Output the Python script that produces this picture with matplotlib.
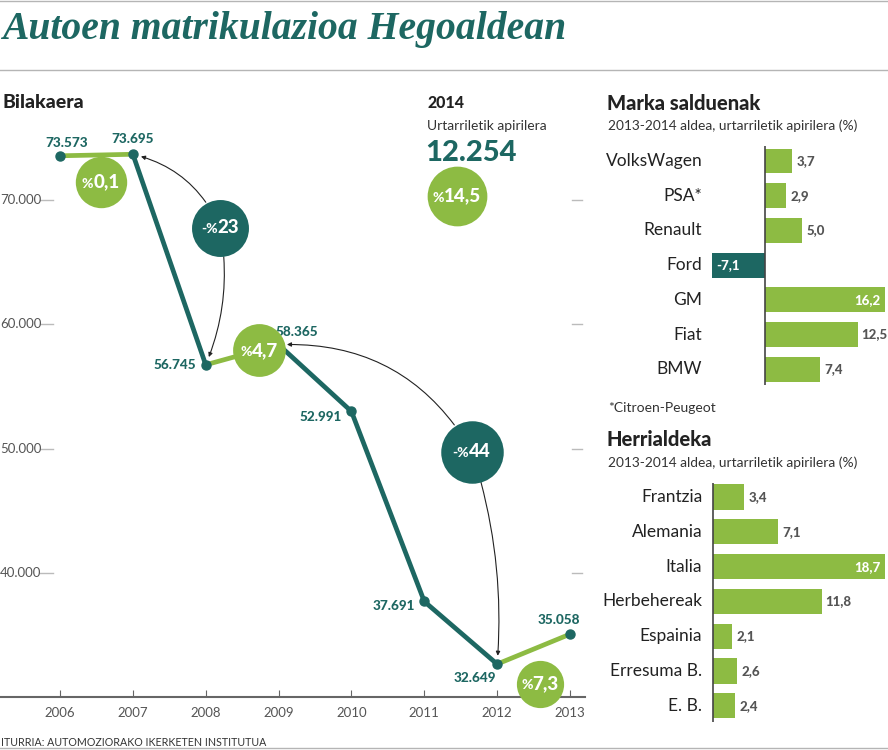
import matplotlib
matplotlib.use("Agg")
import matplotlib.pyplot as plt
from matplotlib.transforms import blended_transform_factory
from matplotlib.offsetbox import TextArea, HPacker, AnnotationBbox

plt.rcParams['font.family'] = ['Lato', 'DejaVu Sans']

# --- data ---
years = [2006, 2007, 2008, 2009, 2010, 2011, 2012, 2013]
registrations = [73573, 73695, 56745, 58365, 52991, 37691, 32649, 35058]
year_labels = ['73.573', '73.695', '56.745', '58.365', '52.991', '37.691', '32.649', '35.058']
y_ticks = [70000, 60000, 50000, 40000]
y_tick_labels = ['70.000', '60.000', '50.000', '40.000']

brands = ['VolksWagen', 'PSA*', 'Renault', 'Ford', 'GM', 'Fiat', 'BMW']
brand_change = [3.7, 2.9, 5.0, -7.1, 16.2, 12.5, 7.4]

countries = ['Frantzia', 'Alemania', 'Italia', 'Herbehereak', 'Espainia', 'Erresuma B.', 'E. B.']
country_change = [3.4, 7.1, 18.7, 11.8, 2.1, 2.6, 2.4]

TEAL = '#1d6762'
GREEN = '#8dbb43'
GRAY = '#555555'
W, H = 888, 750


def rect(l, t, r, b):
    return [l / W, 1 - b / H, (r - l) / W, (b - t) / H]


def ftext(x, y, s, **kw):
    fig.text(x / W, 1 - y / H, s, **kw)


def comma(v):
    return f"{v:.1f}".replace('.', ',')


fig = plt.figure(figsize=(W / 100, H / 100), dpi=100)

# header rules and title
for yy in (1, 70, 748):
    fig.add_artist(plt.Line2D([0, 1], [1 - yy / H] * 2, color='#b5b5b5', lw=1))
ftext(2, 30, 'Autoen matrikulazioa Hegoaldean', family='Liberation Serif',
      weight='bold', style='italic', size=28.5, color=TEAL, va='center')
ftext(3, 103, 'Bilakaera', size=14, weight='black', color='#222222', va='center')
ftext(1, 742, 'ITURRIA: AUTOMOZIORAKO IKERKETEN INSTITUTUA', size=7.7,
      color='#333333', va='center')

# --- line chart ---
ax = fig.add_axes(rect(0, 90, 585, 697))
ax.set_xlim(2005.176, 2013.206)
ax.set_ylim(30000, 78870)
for s in ('top', 'left', 'right'):
    ax.spines[s].set_visible(False)
ax.spines['bottom'].set_color('#666666')
ax.spines['bottom'].set_linewidth(1.5)
ax.set_yticks([])
ax.set_xticks(years)
ax.set_xticklabels([str(y) for y in years], color='#555555', fontsize=9.5)
ax.tick_params(axis='x', direction='in', length=5, color='#666666', pad=7)
ax.patch.set_alpha(0)

tr = blended_transform_factory(ax.transAxes, ax.transData)
for v, lab in zip(y_ticks, y_tick_labels):
    ax.text(0.0, v, lab, transform=tr, fontsize=9.5, color='#555555',
            va='center', ha='left')
    ax.plot([0.068, 0.09], [v, v], transform=tr, color='#bbbbbb', lw=1)
    ax.plot([0.978, 0.995], [v, v], transform=tr, color='#bbbbbb', lw=1)

# green = rising years, teal = falling years
for i in range(len(years) - 1):
    col = GREEN if registrations[i + 1] >= registrations[i] else TEAL
    ax.plot(years[i:i + 2], registrations[i:i + 2], color=col, lw=3.4,
            solid_capstyle='round', zorder=2)
ax.plot(years, registrations, 'o', color=TEAL, ms=6.5, zorder=3)

# label offsets in points (dx, dy, ha)
offsets = [(5, 9, 'center'), (0, 11, 'center'), (-7, 0, 'right'), (13, 9, 'center'),
           (-7, -4, 'right'), (-7, -3, 'right'), (-1, -10, 'right'), (-8, 10, 'center')]
for x, v, lab, (dx, dy, ha) in zip(years, registrations, year_labels, offsets):
    ax.annotate(lab, (x, v), xytext=(dx, dy), textcoords='offset points',
                ha=ha, va='center', fontsize=9.7, weight='black', color=TEAL)

# change bubbles
bubbles = [
    (2006.56, 71450, '%', '0,1', GREEN, 37),
    (2008.195, 67780, '-%', '23', TEAL, 41),
    (2008.73, 57900, '%', '4,7', GREEN, 38),
    (2011.654, 49760, '-%', '44', TEAL, 45),
    (2012.59, 31050, '%', '7,3', GREEN, 34),
    (2011.45, 70320, '%', '14,5', GREEN, 43),
]
for bx, by, pre, num, col, d in bubbles:
    ax.scatter([bx], [by], s=d ** 2, color=col, zorder=4, linewidths=0, clip_on=False)
    box = HPacker(children=[
        TextArea(pre, textprops=dict(color='white', fontsize=10, weight='black')),
        TextArea(num, textprops=dict(color='white', fontsize=13.5, weight='black')),
    ], align='baseline', pad=0, sep=0)
    ab = AnnotationBbox(box, (bx, by), frameon=False, zorder=5, box_alignment=(0.5, 0.5))
    ax.add_artist(ab)

# curved arrows from the dark bubbles to the years they compare
arrows = [
    (1, 1, 21, 'arc3,rad=0.25'),
    (1, 2, 21, 'arc3,rad=-0.15'),
    (3, 3, 23, 'arc3,rad=0.3'),
    (3, 6, 23, 'arc3,rad=-0.1'),
]
for bi, pi, shr, cs in arrows:
    bx, by = bubbles[bi][0], bubbles[bi][1]
    ax.annotate('', xy=(years[pi], registrations[pi]), xytext=(bx, by),
                arrowprops=dict(arrowstyle='-|>', color='#222222', lw=0.8,
                                mutation_scale=6, connectionstyle=cs,
                                shrinkA=shr, shrinkB=6))

# 2014 block
ftext(427, 103, '2014', size=11.5, weight='black', color='#222222', va='center')
ftext(427, 126, 'Urtarriletik apirilera', size=10, color='#333333', va='center')
ftext(425, 153, '12.254', size=21, weight='black', color=TEAL, va='center')


# --- bar charts ---
def bar_panel(top_px, bottom_px, zero_px, scale, row0, step, cats, vals):
    ax_b = fig.add_axes(rect(705, top_px, 888, bottom_px))
    ax_b.set_xlim((705 - zero_px) / scale, (888 - zero_px) / scale)
    ax_b.set_ylim((bottom_px - row0) / step, (top_px - row0) / step)
    ax_b.axis('off')
    ax_b.axvline(0, color='#444444', lw=1.2)
    cols = [GREEN if v >= 0 else TEAL for v in vals]
    ax_b.barh(range(len(cats)), vals, height=0.72, color=cols)
    xmax = ax_b.get_xlim()[1]
    for i, (c, v) in enumerate(zip(cats, vals)):
        ax_b.annotate(c, (0, i), xycoords=('axes fraction', 'data'),
                      xytext=(-2, 0), textcoords='offset points',
                      ha='right', va='center', fontsize=12.5, color='#222222')
        if v < 0:
            ax_b.annotate(comma(v), (v, i), xytext=(3, 0), textcoords='offset points',
                          ha='left', va='center', fontsize=9.5, weight='black', color='white')
        elif v > xmax * 0.85:
            ax_b.annotate(comma(v), (v, i), xytext=(-3, 0), textcoords='offset points',
                          ha='right', va='center', fontsize=9.5, weight='black', color='white')
        else:
            ax_b.annotate(comma(v), (v, i), xytext=(3, 0), textcoords='offset points',
                          ha='left', va='center', fontsize=9.5, weight='black', color=GRAY)
    return ax_b


ftext(607, 103, 'Marka salduenak', size=14.5, weight='black', color='#222222', va='center')
ftext(608, 126, '2013-2014 aldea, urtarriletik apirilera (%)', size=9.9, color='#333333', va='center')
bar_panel(146, 385, 765, 7.4, 161, 34.7, brands, brand_change)
ftext(608, 408, '*Citroen-Peugeot', size=10, color='#333333', va='center')

ftext(607, 440, 'Herrialdeka', size=14.5, weight='black', color='#222222', va='center')
ftext(608, 463, '2013-2014 aldea, urtarriletik apirilera (%)', size=9.9, color='#333333', va='center')
bar_panel(483, 722, 713, 9.2, 497, 34.8, countries, country_change)

fig.savefig('out.png', dpi=100)
